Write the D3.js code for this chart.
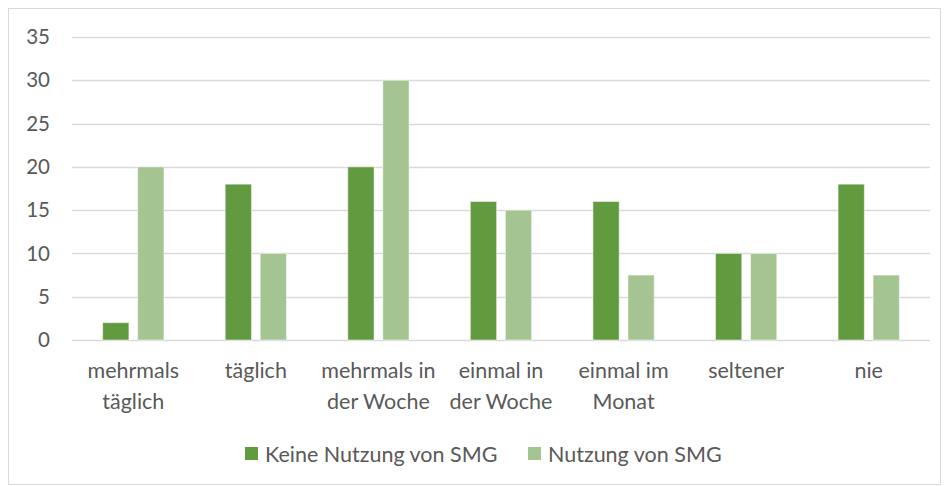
<!DOCTYPE html>
<html>
<head>
<meta charset="utf-8">
<script src="https://cdn.jsdelivr.net/npm/d3@7"></script>
<style>
  body { margin: 0; background: #fff; }
  svg text { font-family: Lato, "Open Sans", sans-serif; fill: #595959; }
</style>
</head>
<body>
<svg id="chart" width="950" height="486"></svg>
<script>
const categories = [
  ["mehrmals", "täglich"],
  ["täglich"],
  ["mehrmals in", "der Woche"],
  ["einmal in", "der Woche"],
  ["einmal im", "Monat"],
  ["seltener"],
  ["nie"]
];
const keineNutzung = [2, 18, 20, 16, 16, 10, 18];
const nutzung = [20, 10, 30, 15, 7.5, 10, 7.5];
const seriesNames = ["Keine Nutzung von SMG", "Nutzung von SMG"];
const seriesColors = ["#629a3f", "#a4c591"];
const yTicks = [0, 5, 10, 15, 20, 25, 30, 35];

const svg = d3.select("#chart");

// outer frame
svg.append("rect")
  .attr("x", 8.5).attr("y", 8.5)
  .attr("width", 932).attr("height", 476)
  .attr("fill", "#fff").attr("stroke", "#d9d9d9");

const plotLeft = 72, plotRight = 930, plotTop = 37, plotBottom = 340;

const x = d3.scaleBand()
  .domain(d3.range(categories.length))
  .range([plotLeft, plotRight])
  .paddingInner(0.5).paddingOuter(0.25);

const sub = d3.scaleBand()
  .domain([0, 1])
  .range([0, x.bandwidth()])
  .paddingInner(0.25);

const y = d3.scaleLinear().domain([0, 35]).range([plotBottom, plotTop]);

// gridlines
svg.append("g")
  .selectAll("line")
  .data(yTicks)
  .join("line")
  .attr("x1", plotLeft).attr("x2", plotRight)
  .attr("y1", d => Math.round(y(d)) + 0.5)
  .attr("y2", d => Math.round(y(d)) + 0.5)
  .attr("stroke", "#d9d9d9")
  .attr("stroke-width", 1.5);

// y tick labels
svg.append("g")
  .selectAll("text")
  .data(yTicks)
  .join("text")
  .attr("x", 50)
  .attr("y", d => y(d))
  .attr("dy", "0.35em")
  .attr("text-anchor", "end")
  .attr("font-size", 20.5)
  .text(d => d);

// bars
const series = [keineNutzung, nutzung];
series.forEach((vals, s) => {
  svg.append("g")
    .selectAll("rect")
    .data(vals)
    .join("rect")
    .attr("x", (d, i) => x(i) + sub(s))
    .attr("y", d => y(d))
    .attr("width", sub.bandwidth())
    .attr("height", d => y(0) - y(d))
    .attr("fill", seriesColors[s])
    .attr("stroke", "#fff")
    .attr("stroke-opacity", 0.5)
    .attr("stroke-width", 1);
});

// category labels
const lab = svg.append("g")
  .selectAll("text")
  .data(categories)
  .join("text")
  .attr("x", (d, i) => x(i) + x.bandwidth() / 2)
  .attr("y", 378)
  .attr("text-anchor", "middle")
  .attr("font-size", 21.5);
lab.selectAll("tspan")
  .data(d => d)
  .join("tspan")
  .attr("x", function() { return d3.select(this.parentNode).attr("x"); })
  .attr("dy", (d, i) => i === 0 ? 0 : 31)
  .text(d => d);

// legend
const legend = svg.append("g");
const legendX = [245, 528];
seriesNames.forEach((name, s) => {
  legend.append("rect")
    .attr("x", legendX[s]).attr("y", 447)
    .attr("width", 13).attr("height", 13)
    .attr("fill", seriesColors[s]);
  legend.append("text")
    .attr("x", legendX[s] + 20).attr("y", 454)
    .attr("dy", "0.35em")
    .attr("font-size", 21.5)
    .text(name);
});
</script>
</body>
</html>
